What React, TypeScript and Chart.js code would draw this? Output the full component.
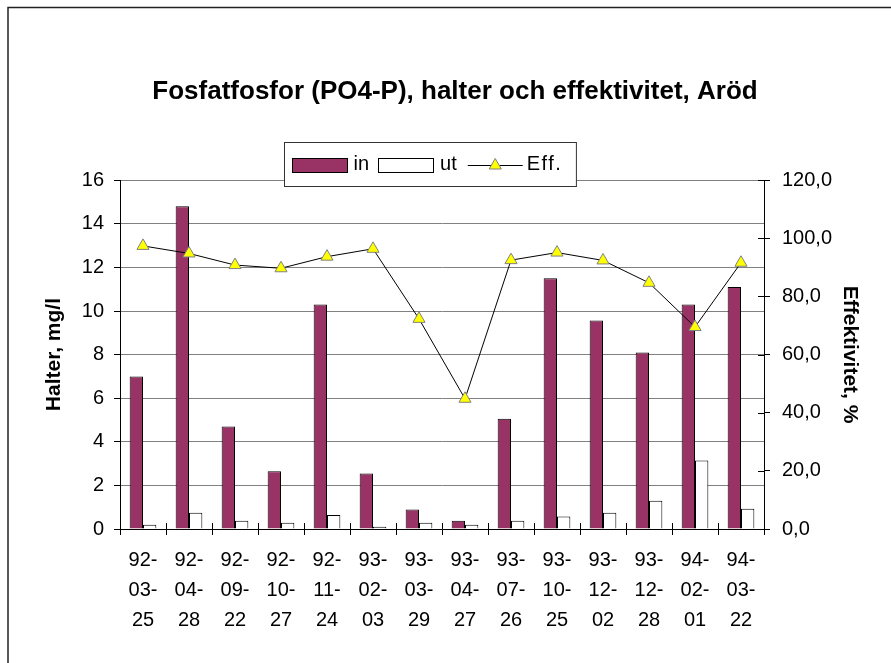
import React, { useEffect, useRef } from "react";
import { Chart, registerables } from "chart.js";

Chart.register(...registerables);

const FONT = '"Liberation Sans", Arial, Helvetica, sans-serif';

const titleText = "Fosfatfosfor (PO4-P), halter och effektivitet, Aröd";
const leftAxisTitle = "Halter, mg/l";
const rightAxisTitle = "Effektivitet, %";

const dates = [
  "92-03-25", "92-04-28", "92-09-22", "92-10-27", "92-11-24", "93-02-03", "93-03-29",
  "93-04-27", "93-07-26", "93-10-25", "93-12-02", "93-12-28", "94-02-01", "94-03-22",
];
const inValues = [7.0, 14.8, 4.7, 2.65, 10.3, 2.55, 0.9, 0.38, 5.06, 11.5, 9.56, 8.1, 10.3, 11.1];
const utValues = [0.2, 0.75, 0.38, 0.29, 0.64, 0.1, 0.29, 0.2, 0.38, 0.57, 0.75, 1.3, 3.14, 0.93];
const effValues = [97.4, 94.8, 90.8, 89.7, 93.7, 96.4, 72.3, 44.8, 92.5, 95.1, 92.4, 84.7, 69.5, 91.6];

const leftMin = 0, leftMax = 16, leftStep = 2;
const rightMin = 0, rightMax = 120, rightStep = 20;

const seriesLabels = ["in", "ut", "Eff."];
const inColor = "#993366";
const utColor = "#FFFFFF";
const effPointColor = "#FFFF00";
const effPointBorder = "#808080";

function drawTriangle(ctx: CanvasRenderingContext2D, x: number, y: number, r: number) {
  let rad = 0;
  ctx.beginPath();
  ctx.moveTo(x + Math.sin(rad) * r, y - Math.cos(rad) * r);
  rad += (2 * Math.PI) / 3;
  ctx.lineTo(x + Math.sin(rad) * r, y - Math.cos(rad) * r);
  rad += (2 * Math.PI) / 3;
  ctx.lineTo(x + Math.sin(rad) * r, y - Math.cos(rad) * r);
  ctx.closePath();
  ctx.fillStyle = effPointColor;
  ctx.fill();
  ctx.strokeStyle = effPointBorder;
  ctx.lineWidth = 1;
  ctx.stroke();
}

const framePlugin = {
  id: "frame",
  afterDraw(chart: any) {
    const { ctx, width, height } = chart;
    ctx.save();
    ctx.strokeStyle = "#222";
    ctx.lineWidth = 1.5;
    ctx.beginPath();
    ctx.moveTo(8, height + 2);
    ctx.lineTo(8, 7.5);
    ctx.lineTo(width + 2, 7.5);
    ctx.stroke();
    ctx.restore();
  },
};

const innerTicksPlugin = {
  id: "innerTicks",
  afterDraw(chart: any) {
    const { ctx, chartArea } = chart;
    const x = chart.scales.x;
    const y2 = chart.scales.y2;
    ctx.save();
    ctx.strokeStyle = "#000";
    ctx.lineWidth = 1;
    ctx.beginPath();
    for (let i = 0; i <= dates.length; i++) {
      const px = Math.round(x.getPixelForValue(i - 0.5)) + 0.5;
      ctx.moveTo(px, chartArea.bottom - 6);
      ctx.lineTo(px, chartArea.bottom);
    }
    for (let v = rightMin; v <= rightMax; v += rightStep) {
      const py = Math.round(y2.getPixelForValue(v)) + 0.5;
      ctx.moveTo(chartArea.right - 6, py);
      ctx.lineTo(chartArea.right, py);
    }
    ctx.stroke();
    ctx.restore();
  },
};

const legendPlugin = {
  id: "customLegend",
  afterDraw(chart: any) {
    const { ctx, chartArea } = chart;
    ctx.save();
    ctx.font = `20px ${FONT}`;
    const sw = 55, sh = 14, padL = 7, padR = 14, boxH = 44;
    const gaps = [7, 7, 4];
    const itemGaps = [9, 11, 0];
    const spacing = ["0px", "0px", "1.5px"];
    const widths = seriesLabels.map((t, i) => {
      (ctx as any).letterSpacing = spacing[i];
      return ctx.measureText(t).width;
    });
    let total = padL + padR;
    widths.forEach((w, i) => {
      total += sw + gaps[i] + w + itemGaps[i];
    });
    const cx = (chartArea.left + chartArea.right) / 2 - 12;
    const left = Math.round(cx - total / 2) + 0.5;
    const top = Math.round(chartArea.top - 38) + 0.5;
    ctx.fillStyle = "#fff";
    ctx.fillRect(left, top, total, boxH);
    ctx.strokeStyle = "#333";
    ctx.lineWidth = 1;
    ctx.strokeRect(left, top, total, boxH);
    const cy = top + boxH / 2;
    let xPos = left + padL;
    seriesLabels.forEach((label, i) => {
      if (i === 0 || i === 1) {
        ctx.fillStyle = i === 0 ? inColor : utColor;
        ctx.fillRect(Math.round(xPos) + 0.5, Math.round(cy - sh / 2) + 0.5, sw, sh);
        ctx.strokeStyle = "#000";
        ctx.strokeRect(Math.round(xPos) + 0.5, Math.round(cy - sh / 2) + 0.5, sw, sh);
      } else {
        ctx.strokeStyle = "#000";
        ctx.beginPath();
        ctx.moveTo(xPos, Math.round(cy) + 0.5);
        ctx.lineTo(xPos + sw, Math.round(cy) + 0.5);
        ctx.stroke();
        drawTriangle(ctx, xPos + sw / 2, cy + 1, 7);
      }
      xPos += sw + gaps[i];
      ctx.fillStyle = "#000";
      ctx.textBaseline = "middle";
      ctx.textAlign = "left";
      (ctx as any).letterSpacing = spacing[i];
      ctx.fillText(label, xPos, cy);
      xPos += widths[i] + itemGaps[i];
    });
    ctx.restore();
  },
};

export default function App() {
  const canvasRef = useRef<HTMLCanvasElement | null>(null);

  useEffect(() => {
    const canvas = canvasRef.current;
    if (!canvas) return;
    const tickFont = { family: FONT, size: 20 };
    const chart = new Chart(canvas, {
      type: "bar",
      data: {
        labels: dates.map((d) => d.split("-").map((p, i, a) => (i < a.length - 1 ? p + "-" : p))),
        datasets: [
          {
            type: "bar",
            label: seriesLabels[0],
            data: inValues,
            backgroundColor: inColor,
            borderColor: "#000",
            borderWidth: 1,
            barPercentage: 1,
            categoryPercentage: 0.58,
            yAxisID: "y",
            order: 1,
          },
          {
            type: "bar",
            label: seriesLabels[1],
            data: utValues,
            backgroundColor: utColor,
            borderColor: "#000",
            borderWidth: 1,
            barPercentage: 1,
            categoryPercentage: 0.58,
            yAxisID: "y",
            order: 1,
          },
          {
            type: "line",
            label: seriesLabels[2],
            data: effValues,
            borderColor: "#000",
            borderWidth: 1,
            tension: 0,
            pointStyle: "triangle",
            pointRadius: 7,
            pointBackgroundColor: effPointColor,
            pointBorderColor: effPointBorder,
            pointBorderWidth: 1,
            yAxisID: "y2",
            order: 0,
          } as any,
        ],
      },
      options: {
        responsive: false,
        animation: false,
        devicePixelRatio: 1,
        layout: { padding: { left: 19, right: 0, top: 0, bottom: 0 } },
        plugins: {
          legend: { display: false },
          tooltip: { enabled: false },
          title: {
            display: true,
            text: titleText,
            color: "#000",
            font: { family: FONT, size: 26, weight: "bold" },
            padding: { top: 76, bottom: 73 },
          },
        },
        scales: {
          x: {
            offset: true,
            grid: {
              display: true,
              drawOnChartArea: false,
              offset: true,
              tickLength: 6,
              color: "#000",
              tickColor: "#000",
            },
            border: { color: "#000", width: 1 },
            ticks: {
              color: "#000",
              font: { ...tickFont, lineHeight: 1.5 },
              padding: 10,
              maxRotation: 0,
              minRotation: 0,
              autoSkip: false,
            },
            afterFit: (s: any) => {
              s.height = 134;
            },
          },
          y: {
            position: "left",
            min: leftMin,
            max: leftMax,
            ticks: { stepSize: leftStep, color: "#000", font: tickFont, padding: 10 },
            grid: { color: "#808080", tickColor: "#000", tickLength: 6 },
            border: { color: "#000", width: 1 },
            title: {
              display: true,
              text: leftAxisTitle,
              color: "#000",
              font: { family: FONT, size: 21, weight: "bold" },
              padding: { top: 23, bottom: 0 },
            },
            afterFit: (s: any) => {
              s.width = 101;
            },
          },
          y2: {
            position: "right",
            min: rightMin,
            max: rightMax,
            ticks: {
              stepSize: rightStep,
              color: "#000",
              font: tickFont,
              padding: 12,
              callback: (v: any) => Number(v).toFixed(1).replace(".", ","),
            },
            grid: { drawOnChartArea: false, color: "#000", tickColor: "#000", tickLength: 6 },
            border: { color: "#000", width: 1 },
            title: {
              display: true,
              text: rightAxisTitle,
              color: "#000",
              font: { family: FONT, size: 21, weight: "bold" },
              padding: { top: 29, bottom: 0 },
            },
            afterFit: (s: any) => {
              s.width = 127;
            },
          },
        },
      } as any,
      plugins: [innerTicksPlugin, legendPlugin, framePlugin],
    });
    return () => chart.destroy();
  }, []);

  return (
    <div style={{ position: "fixed", left: 0, top: 0, width: 891, height: 663, background: "#fff" }}>
      <canvas ref={canvasRef} width={891} height={663} style={{ display: "block", width: 891, height: 663 }} />
    </div>
  );
}
